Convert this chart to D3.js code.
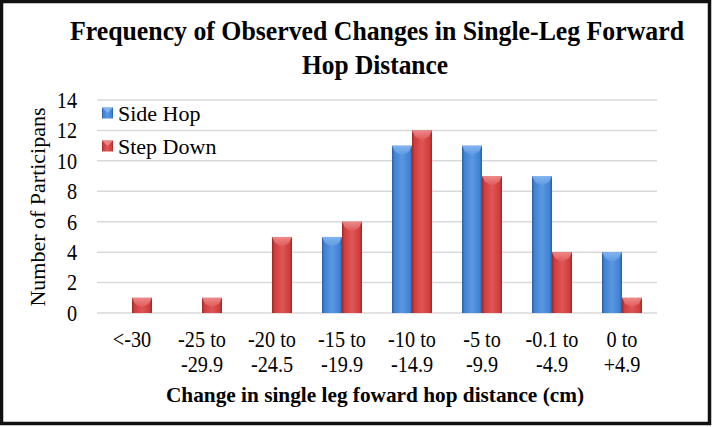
<!DOCTYPE html>
<html><head><meta charset="utf-8">
<script src="https://cdn.jsdelivr.net/npm/d3@7/dist/d3.min.js"></script>
<style>body{margin:0;background:#fff}svg{display:block}text{font-family:"Liberation Serif","Times New Roman",serif}</style>
</head><body><svg id="c" width="712" height="427"></svg>
<script>
const categories = [["<-30",""],["-25 to","-29.9"],["-20 to","-24.5"],["-15 to","-19.9"],["-10 to","-14.9"],["-5 to","-9.9"],["-0.1 to","-4.9"],["0 to","+4.9"]];
const seriesNames = ["Side Hop","Step Down"];
const sideHop = [0,0,0,5,11,11,9,4];
const stepDown = [1,1,5,6,12,9,4,1];
const yTicks = [0,2,4,6,8,10,12,14];

const svg = d3.select("#c");
const W=712,H=427;
svg.append("rect").attr("x",0).attr("y",0).attr("width",W).attr("height",H).attr("fill","#fff");
svg.append("rect").attr("x",1.5).attr("y",1.5).attr("width",708).attr("height",422)
  .attr("fill","none").attr("stroke","#111").attr("stroke-width",3.5);

const m={l:97,r:657,t:100,b:313};
const x=d3.scaleBand().domain(d3.range(categories.length)).range([m.l,m.r]);
const x1=d3.scaleBand().domain([0,1]).range([0,40]);
const y=d3.scaleLinear().domain([0,14]).range([m.b,m.t]);

const defs=svg.append("defs");
const pal=[{dark:"#2a5c9e",mid:"#3f82d4",light:"#5a97e0",hi:"#8cbcf2"},{dark:"#9c2626",mid:"#d03c3c",light:"#de5656",hi:"#f29494"}];
pal.forEach((p,i)=>{
  const g=defs.append("linearGradient").attr("id","g"+i).attr("x1","0").attr("x2","1").attr("y1","0").attr("y2","0");
  g.append("stop").attr("offset","0").attr("stop-color",p.dark);
  g.append("stop").attr("offset","0.12").attr("stop-color",p.mid);
  g.append("stop").attr("offset","0.5").attr("stop-color",p.light);
  g.append("stop").attr("offset","0.88").attr("stop-color",p.mid);
  g.append("stop").attr("offset","1").attr("stop-color",p.dark);
  const h=defs.append("linearGradient").attr("id","h"+i).attr("x1","0").attr("x2","0").attr("y1","0").attr("y2","1");
  h.append("stop").attr("offset","0").attr("stop-color",p.hi);
  h.append("stop").attr("offset","1").attr("stop-color",p.light);
});

// gridlines
svg.append("g").selectAll("line").data(yTicks).join("line")
  .attr("x1",m.l).attr("x2",m.r).attr("y1",d=>y(d)).attr("y2",d=>y(d))
  .attr("stroke","#d9d9d9").attr("stroke-width",1.5);

// y axis labels
const yAxis=d3.axisLeft(y).tickValues(yTicks).tickSize(0).tickPadding(20);
const ya=svg.append("g").attr("transform",`translate(${m.l},0)`).call(yAxis);
ya.select(".domain").remove();
ya.selectAll("text").attr("font-family","Liberation Serif").attr("font-size",23).attr("fill","#000")
  .attr("transform","translate(-20,0) scale(0.88,1) translate(20,0)");

const series=[sideHop,stepDown];
series.forEach((vals,si)=>{
  const g=svg.append("g");
  const bars=g.selectAll("g").data(vals.map((v,i)=>({v,i}))).join("g")
    .filter(d=>d.v>0);
  const bx=d=>x(d.i)+(x.bandwidth()-40)/2+x1(si);
  const bw=x1.bandwidth();
  bars.append("rect").attr("x",bx).attr("y",d=>y(d.v)).attr("width",bw).attr("height",d=>y(0)-y(d.v))
    .attr("fill",`url(#g${si})`);
  bars.append("path").attr("d",d=>{const x0=bx(d),y0=y(d.v);return `M${x0},${y0}L${x0+bw},${y0}L${x0+bw-3},${y0+6}L${x0+bw/2},${y0+10}L${x0+3},${y0+6}Z`;})
    .attr("fill",`url(#h${si})`).attr("opacity",0.85);
});

// x labels
const xl=svg.append("g");
categories.forEach((c,i)=>{
  const cx=x(i)+x.bandwidth()/2;
  const t=xl.append("text").attr("transform",`translate(${cx},347) scale(0.88,1)`).attr("text-anchor","middle").attr("font-size",23).attr("fill","#000");
  t.append("tspan").attr("x",0).attr("dy",0).text(c[0]);
  if(c[1]) t.append("tspan").attr("x",0).attr("dy",25).text(c[1]);
});

// legend
const lg=svg.append("g");
seriesNames.forEach((n,i)=>{
  const ly=113+i*33;
  lg.append("rect").attr("x",102).attr("y",ly-5.5).attr("width",11).attr("height",11).attr("fill",`url(#g${i})`);
  lg.append("path").attr("d",`M102,${ly-5.5}L113,${ly-5.5}L107.5,${ly}Z`).attr("fill",pal[i].hi).attr("opacity",0.8);
  lg.append("text").attr("x",118).attr("y",ly+7.5).attr("font-size",22).attr("fill","#000").text(n);
});

// titles
svg.append("text").attr("x",377).attr("y",40).attr("text-anchor","middle").attr("font-size",27).attr("font-weight","bold")
  .attr("textLength",614).attr("lengthAdjust","spacingAndGlyphs").text("Frequency of Observed Changes in Single-Leg Forward");
svg.append("text").attr("x",375).attr("y",74).attr("text-anchor","middle").attr("font-size",27).attr("font-weight","bold")
  .attr("textLength",146).attr("lengthAdjust","spacingAndGlyphs").text("Hop Distance");
svg.append("text").attr("x",375).attr("y",402).attr("text-anchor","middle").attr("font-size",21).attr("font-weight","bold")
  .attr("textLength",418).attr("lengthAdjust","spacingAndGlyphs").text("Change in single leg foward hop distance (cm)");
svg.append("text").attr("transform","translate(45,207) rotate(-90)").attr("text-anchor","middle").attr("font-size",22)
  .attr("textLength",199).attr("lengthAdjust","spacingAndGlyphs").text("Number of Participans");
</script></body></html>
